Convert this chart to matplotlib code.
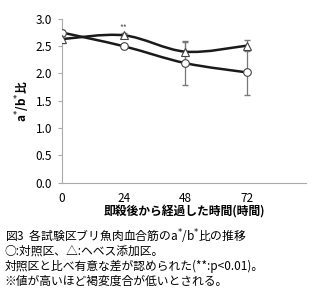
import numpy as np
import matplotlib.pyplot as plt
from matplotlib.path import Path
from matplotlib.patches import PathPatch

plt.rcParams['font.family'] = ['Noto Sans CJK JP', 'DejaVu Sans']

hours = [0, 24, 48, 72]
control = [2.75, 2.50, 2.19, 2.02]
control_err = [0.05, 0.04, 0.40, 0.41]
heme = [2.63, 2.70, 2.40, 2.51]
heme_err = [0.08, 0.04, 0.18, 0.10]
xticks = [0, 24, 48, 72]
yticks = [0.0, 0.5, 1.0, 1.5, 2.0, 2.5, 3.0]
caption = ["図3  各試験区ブリ魚肉血合筋のa$^{*}$/b$^{*}$比の推移",
           "○:対照区、△:ヘベス添加区。",
           "対照区と比べ有意な差が認められた(**:p<0.01)。",
           "※値が高いほど褐変度合が低いとされる。"]


def smooth_path(x, y):
    # catmull-rom style bezier like excel's smoothed line
    x = np.asarray(x, float); y = np.asarray(y, float)
    verts = [(x[0], y[0])]
    codes = [Path.MOVETO]
    n = len(x)
    for i in range(n - 1):
        p0 = (x[max(i - 1, 0)], y[max(i - 1, 0)])
        p1 = (x[i], y[i]); p2 = (x[i + 1], y[i + 1])
        p3 = (x[min(i + 2, n - 1)], y[min(i + 2, n - 1)])
        c1 = (p1[0] + (p2[0] - p0[0]) / 6, p1[1] + (p2[1] - p0[1]) / 6)
        c2 = (p2[0] - (p3[0] - p1[0]) / 6, p2[1] - (p3[1] - p1[1]) / 6)
        verts += [c1, c2, p2]
        codes += [Path.CURVE4] * 3
    return Path(verts, codes)


fig = plt.figure(figsize=(3.2, 3.0), dpi=100)
ax = fig.add_axes([0.194, 0.391, 0.762, 0.546])

for ys, err, mk in [(control, control_err, 'o'), (heme, heme_err, '^')]:
    ax.add_patch(PathPatch(smooth_path(hours, ys), fill=False, lw=1.8, color='#1a1a1a', zorder=3))
    ax.errorbar(hours, ys, yerr=err, fmt='none', ecolor='#777777', elinewidth=0.9, capsize=2, zorder=2)
    ax.plot(hours, ys, linestyle='none', marker=mk, markersize=5.5, mfc='white', mec='#444444', mew=0.8, zorder=4)

ax.text(24, heme[1] + 0.06, "**", ha='center', va='bottom', fontsize=6, color='#555555')

ax.set_xlim(0, 95)
ax.set_ylim(0, 3.0)
ax.set_xticks(xticks)
ax.set_yticks(yticks)
ax.set_yticklabels([f"{v:.1f}" for v in yticks])
for s in ['top', 'right']:
    ax.spines[s].set_visible(False)
for s in ['left', 'bottom']:
    ax.spines[s].set_color('#aaaaaa')
    ax.spines[s].set_linewidth(0.8)
ax.tick_params(axis='both', labelsize=8.5, length=3, color='#aaaaaa', width=0.8, pad=4)
ax.tick_params(axis='x', length=0, pad=7)
ax.set_xlabel("即殺後から経過した時間(時間)", fontsize=8.5, fontweight='bold', labelpad=0)
ax.set_ylabel("a$^{*}$/b$^{*}$比", fontsize=8.5, fontweight='bold', labelpad=3)

for i, line in enumerate(caption):
    fig.text(0.015, 0.212 - i * 0.05, line, fontsize=8.5, va='center')

fig.savefig("out.png", dpi=100)
